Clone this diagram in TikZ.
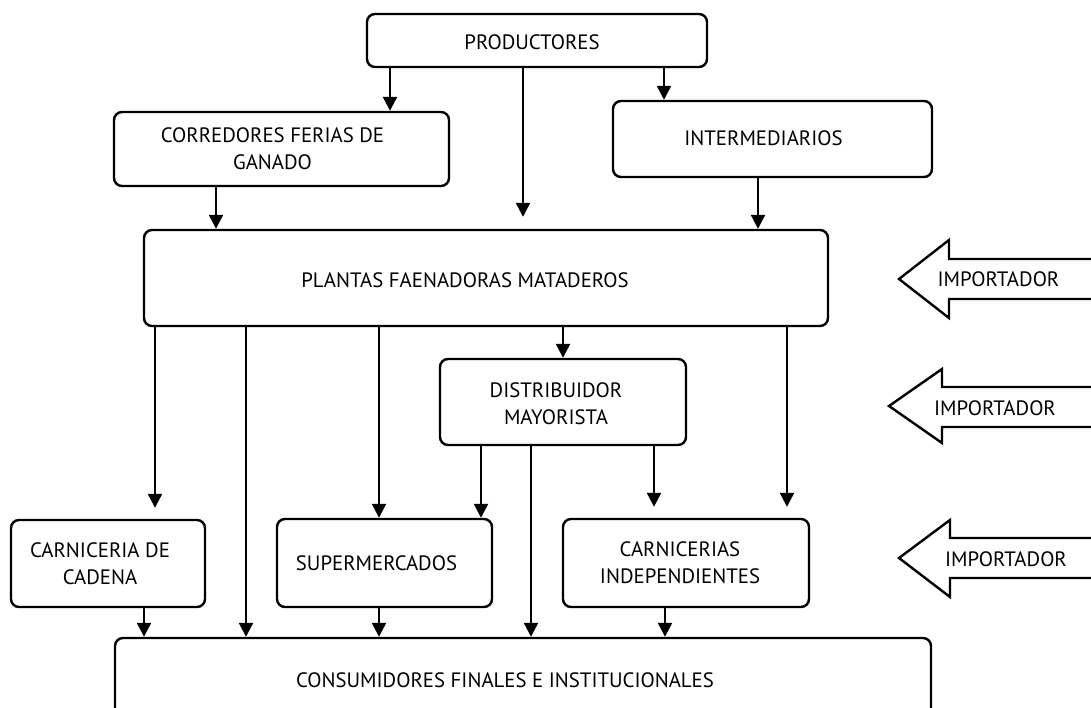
\documentclass[tikz,border=0pt]{standalone}
\usepackage{fontspec}
\setmainfont{PT Sans}
\usetikzlibrary{arrows.meta}
\begin{document}
\begin{tikzpicture}[x=1pt,y=-1pt,
  every node/.style={font=\fontsize{20.8}{27}\selectfont, text=black},
  box/.style={draw=black, line width=2.4pt, rounded corners=8pt, fill=white, inner sep=0pt},
  lbl/.style={align=center, inner sep=0pt},
  arr/.style={line width=2.3pt, -{Triangle[length=14pt,width=14pt]}},
  imp/.style={draw=black, line width=2.4pt, fill=white, line join=miter}]
\useasboundingbox (0,0) rectangle (1091,708);

% boxes (centre, width, height) with their captions
\node[box, minimum width=340pt, minimum height=53pt, label={[lbl,xshift=-5pt,yshift=-2pt]center:PRODUCTORES}] (prod) at (537,40.5) {};
\node[box, minimum width=335pt, minimum height=74pt, label={[lbl,xshift=-9pt]center:CORREDORES FERIAS DE\\GANADO}] (corr) at (281.5,149) {};
\node[box, minimum width=319pt, minimum height=76pt, label={[lbl,xshift=-9pt,yshift=1pt]center:INTERMEDIARIOS}] (inter) at (772.5,139) {};
\node[box, minimum width=684pt, minimum height=96pt, label={[lbl,xshift=-21pt,yshift=-2pt]center:PLANTAS FAENADORAS MATADEROS}] (plant) at (486,278) {};
\node[box, minimum width=246pt, minimum height=86pt, label={[lbl,xshift=-7pt,yshift=-2pt]center:DISTRIBUIDOR\\MAYORISTA}] (dist) at (563,402) {};
\node[box, minimum width=194pt, minimum height=87pt, label={[lbl,xshift=-8pt]center:CARNICERIA DE\\CADENA}] (cad) at (108,563.5) {};
\node[box, minimum width=215pt, minimum height=88pt, label={[lbl,xshift=-8pt]center:SUPERMERCADOS}] (super) at (384.5,563) {};
\node[box, minimum width=246pt, minimum height=88pt, label={[lbl,xshift=-6pt]center:CARNICERIAS\\INDEPENDIENTES}] (indep) at (686,563) {};
\node[box, minimum width=816pt, minimum height=80pt, label={[lbl,xshift=-18pt,yshift=-2pt]center:CONSUMIDORES FINALES E INSTITUCIONALES}] (cons) at (523,678) {};

% producers
\draw[arr] (prod.south -| 390,0) -- (corr.north -| 390,0);
\draw[arr, shorten >=12pt] (prod.south -| 523,0) -- (plant.north -| 523,0);
\draw[arr] (prod.south -| 664,0) -- (inter.north -| 664,0);
\draw[arr] (corr.south -| 216,0) -- (plant.north -| 216,0);
\draw[arr] (inter.south -| 758,0) -- (plant.north -| 758,0);

% slaughter plants
\draw[arr, shorten >=11pt] (plant.south -| 155,0) -- (cad.north -| 155,0);
\draw[arr] (plant.south -| 246,0) -- (cons.north -| 246,0);
\draw[arr] (plant.south -| 379,0) -- (super.north -| 379,0);
\draw[arr] (plant.south -| 563,0) -- (dist.north -| 563,0);
\draw[arr, shorten >=11pt] (plant.south -| 787,0) -- (indep.north -| 787,0);

% wholesale distributor
\draw[arr] (dist.south -| 481,0) -- (super.north -| 481,0);
\draw[arr] (dist.south -| 531,0) -- (cons.north -| 531,0);
\draw[arr, shorten >=11pt] (dist.south -| 654,0) -- (indep.north -| 654,0);

% retail to consumers
\draw[arr] (cad.south -| 144,0) -- (cons.north -| 144,0);
\draw[arr] (super.south -| 379,0) -- (cons.north -| 379,0);
\draw[arr] (indep.south -| 665,0) -- (cons.north -| 665,0);

% importer block arrows
\draw[imp] (1096,259) -- (949,259) -- (949,240) -- (899,279) -- (949,318) -- (949,299) -- (1096,299);
\node[lbl] (imp1) at (998.5,279) {IMPORTADOR};
\draw[imp] (1096,387) -- (942,387) -- (942,369) -- (889,406) -- (942,443) -- (942,427) -- (1096,427);
\node[lbl] (imp2) at (995,408) {IMPORTADOR};
\draw[imp] (1096,538) -- (950,538) -- (950,520) -- (899,558) -- (950,597) -- (950,578) -- (1096,578);
\node[lbl] (imp3) at (1006,559) {IMPORTADOR};
\end{tikzpicture}
\end{document}
